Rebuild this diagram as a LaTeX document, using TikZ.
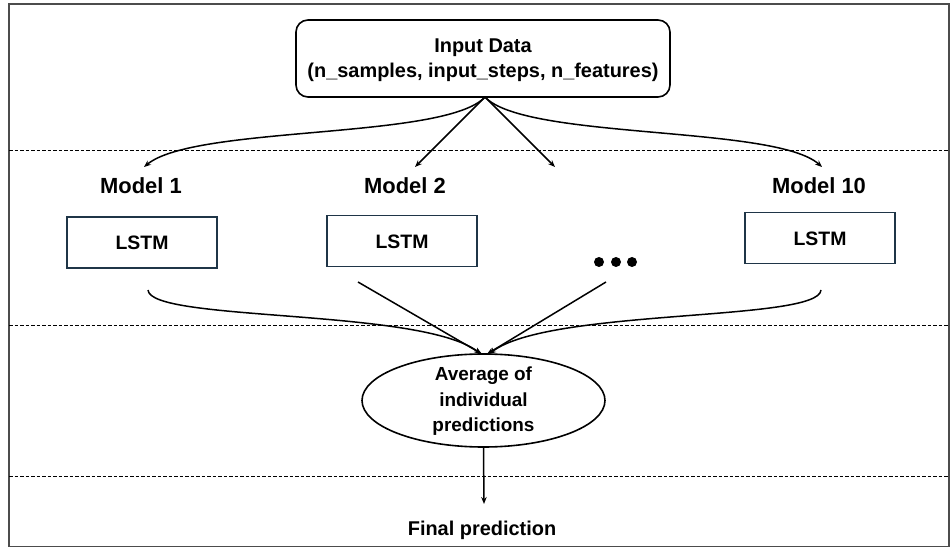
\documentclass[tikz,border=0pt]{standalone}
\usepackage{fontspec}
\setmainfont{Liberation Sans}
\usetikzlibrary{arrows.meta,shapes.geometric}
\definecolor{boxborder}{HTML}{1F3547}
\begin{document}
\begin{tikzpicture}[x=1bp,y=-1bp,
  txt/.style={font=\bfseries\fontsize{19}{25.5}\selectfont, align=center, inner sep=0pt},
  modeltxt/.style={font=\bfseries\fontsize{22}{24}\selectfont, inner sep=0pt, anchor=base},
  lstmbox/.style={draw=boxborder, line width=1.7bp, minimum width=150bp, minimum height=51bp, inner sep=0pt},
  lstmtxt/.style={font=\bfseries\fontsize{19.5}{22}\selectfont, inner sep=0pt, anchor=base},
  arr/.style={line width=1.5bp, -{Stealth[length=7bp,width=5.5bp]}},
  sep/.style={line width=1bp, dash pattern=on 3.5bp off 2bp},
  dotc/.style={circle, fill=black, inner sep=0pt, minimum size=10bp}
]
\useasboundingbox (0,0) rectangle (951,549);
\draw[line width=1.4bp, black!70] (9,4) rectangle (949,546.5);

\node[draw, line width=1.6bp, rounded corners=12bp, minimum width=374bp, minimum height=77bp, inner sep=0pt] (inp) at (483,58.5) {};
\node[txt, font=\bfseries\fontsize{20}{25}\selectfont] (inptxt) at (483,60.4) {Input Data\\(n\_samples, input\_steps, n\_features)};
\coordinate (apex) at (485,97);

\draw[sep] (9,151) -- (949,151);
\draw[sep] (9,326) -- (949,326);
\draw[sep] (9,476) -- (949,476);

\coordinate (t1) at (144,167);
\coordinate (t2) at (415,167);
\coordinate (t3) at (555,167);
\coordinate (t4) at (822,167);
\draw[arr] (apex) .. controls (445,140) and (195,125) .. (t1);
\draw[arr] (apex) -- (t2);
\draw[arr] (apex) -- (t3);
\draw[arr] (apex) .. controls (525,140) and (775,125) .. (t4);

\node[modeltxt] (m1) at (141,194) {Model 1};
\node[modeltxt] (m2) at (405,194) {Model 2};
\node[modeltxt] (m10) at (819,194) {Model 10};

\node[lstmbox] (l1) at (142,242.5) {};
\node[lstmbox] (l2) at (402,241) {};
\node[lstmbox] (l3) at (820,238) {};
\node[lstmtxt] (l1t) at (142,250) {LSTM};
\node[lstmtxt] (l2t) at (402,248.5) {LSTM};
\node[lstmtxt] (l3t) at (820,245.5) {LSTM};

\node[dotc] (d1) at (599,262) {};
\node[dotc] (d2) at (616,262) {};
\node[dotc] (d3) at (632,262) {};

\node[draw, ellipse, line width=1.6bp, minimum width=243bp, minimum height=93bp, inner sep=0pt] (avg) at (483.5,400.5) {};
\node[txt] (avgtxt) at (483.5,401.5) {Average of\\individual\\predictions};

\coordinate (s1) at (148,290);
\coordinate (s2) at (358,282);
\coordinate (s3) at (606,282);
\coordinate (s4) at (821,290);
\coordinate (e1) at (481,354);
\coordinate (e2) at (482,354);
\coordinate (e3) at (487,354);
\coordinate (e4) at (489,354);
\draw[arr] (s1) .. controls (150,322) and (420,308) .. (e1);
\draw[arr] (s2) -- (e2);
\draw[arr] (s3) -- (e3);
\draw[arr] (s4) .. controls (819,322) and (550,308) .. (e4);

\node[font=\bfseries\fontsize{20}{22}\selectfont, inner sep=0pt, anchor=base] (fin) at (482,535) {Final prediction};
\draw[arr] (avg.south) -- (484,504);
\end{tikzpicture}
\end{document}
